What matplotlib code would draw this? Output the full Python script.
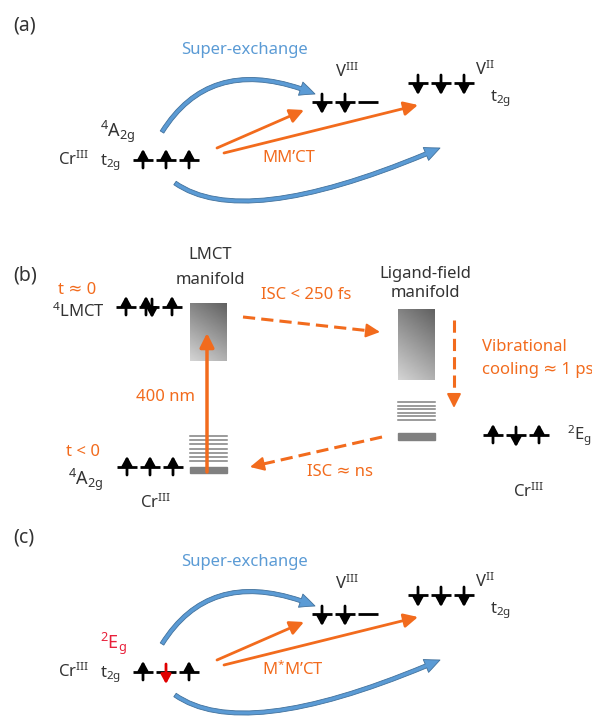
import numpy as np
import matplotlib.pyplot as plt
from matplotlib.patches import FancyArrowPatch
from matplotlib.path import Path

plt.rcParams['font.family'] = ['Noto Sans', 'DejaVu Sans']
plt.rcParams['mathtext.fontset'] = 'custom'
plt.rcParams['mathtext.rm'] = 'Noto Sans'
plt.rcParams['mathtext.it'] = 'Noto Sans'

# spin configurations (u = up, d = down, ud = pair, '' = empty, dr = red down)
cr_spins_a = ['u', 'u', 'u']
v3_spins = ['d', 'd', '']
v2_spins = ['d', 'd', 'd']
lmct_spins = ['u', 'ud', 'u']
a2g_spins = ['u', 'u', 'u']
e_spins = ['u', 'd', 'u']
cr_spins_c = ['u', 'dr', 'u']

panel_labels = ['(a)', '(b)', '(c)']
ct_labels = ['MM’CT', 'M$^{*}$M’CT']
cr_state_labels = ['$^{4}$A$_{2g}$', '$^{2}$E$_{g}$']
cr_state_colors = ['#333333', '#e8203a']
b_times = ['t ≈ 0', 't < 0']
isc_labels = ['ISC < 250 fs', 'ISC ≈ ns']

ORANGE = '#f26b1d'
BLUE = '#5b9bd5'
GREY = '#333333'

fig = plt.figure(figsize=(5.92, 7.17), dpi=100)
ax = fig.add_axes([0, 0, 1, 1])
ax.set_xlim(0, 592)
ax.set_ylim(717, 0)
ax.axis('off')


def spins(x0, y, codes, w=20, gap=3):
    for i, c in enumerate(codes):
        xl = x0 + i * (w + gap)
        ax.plot([xl, xl + w], [y, y], color='k', lw=2.0, solid_capstyle='butt')
        xc = xl + w / 2
        arrows = []
        if c == 'u':
            arrows.append((xc, y + 8, y - 11, 'k'))
        elif c == 'd':
            arrows.append((xc, y - 8, y + 12, 'k'))
        elif c == 'dr':
            arrows.append((xc, y - 8, y + 12, '#e00000'))
        elif c == 'ud':
            arrows.append((xc - 3, y + 8, y - 11, 'k'))
            arrows.append((xc + 3, y - 8, y + 11, 'k'))
        for xa, yt, yh, col in arrows:
            ax.annotate('', xy=(xa, yh), xytext=(xa, yt),
                        arrowprops=dict(arrowstyle='-|>,head_length=0.55,head_width=0.3',
                                        color=col, lw=2.0, shrinkA=0, shrinkB=0,
                                        mutation_scale=10))


def orange_arrow(x0, y0, x1, y1, lw=2.0):
    ax.annotate('', xy=(x1, y1), xytext=(x0, y0),
                arrowprops=dict(arrowstyle='-|>,head_length=0.7,head_width=0.35',
                                color=ORANGE, lw=lw, shrinkA=0, shrinkB=0,
                                mutation_scale=12))


def dashed_arrow(x0, y0, x1, y1):
    d = np.hypot(x1 - x0, y1 - y0)
    xe = x1 - (x1 - x0) * 8 / d
    ye = y1 - (y1 - y0) * 8 / d
    ax.plot([x0, xe], [y0, ye], color=ORANGE, lw=2.2, ls=(0, (4, 2)))
    ax.annotate('', xy=(x1, y1), xytext=(xe, ye),
                arrowprops=dict(arrowstyle='-|>,head_length=0.7,head_width=0.35',
                                color=ORANGE, lw=1.5, shrinkA=0, shrinkB=0,
                                mutation_scale=12))


def blue_arrow(pts):
    path = Path(pts, [Path.MOVETO, Path.CURVE3, Path.CURVE3])
    p = FancyArrowPatch(path=path,
                        arrowstyle='simple,head_length=1.1,head_width=1.0,tail_width=0.3',
                        mutation_scale=10, fc=BLUE, ec='#41719c', lw=0.6)
    ax.add_patch(p)


def grad_box(x0, x1, y0, y1):
    n, m = 50, 30
    i = np.linspace(0, 1, n)[:, None]
    j = np.linspace(0, 1, m)[None, :]
    g = 0.38 + 0.45 * (0.7 * i + 0.3 * (1 - j))
    ax.imshow(g, cmap='gray', vmin=0, vmax=1, extent=(x0, x1, y1, y0),
              origin='upper', aspect='auto', zorder=1)


def level_stack(x0, x1, y0, y1, nlines, ybar, hbar):
    for y in np.linspace(y0, y1, nlines):
        ax.plot([x0, x1], [y, y], color='#808080', lw=1.1, zorder=1)
    ax.add_patch(plt.Rectangle((x0, ybar), x1 - x0, hbar, color='#808080', zorder=1))


# ---- panels (a) and (c): same layout, shifted ----
for k, off in enumerate([0, 512]):
    ax.text(13, 26 + off, panel_labels[0 if k == 0 else 2], fontsize=14, color=GREY,
            va='center', ha='left')
    ax.text(245, 50 + off, 'Super-exchange', fontsize=12, color=BLUE, ha='center', va='center')
    blue_arrow([(162, 132 + off), (212, 52 + off), (315, 94 + off)])
    blue_arrow([(175, 183 + off), (245, 232 + off), (440, 148 + off)])
    ax.text(100, 137 + off, cr_state_labels[k], fontsize=13, color=cr_state_colors[k], ha='left',
            va='baseline')
    ax.text(58, 165 + off, 'Cr$^{\\rm III}$', fontsize=12, color=GREY, ha='left', va='baseline')
    ax.text(100, 165 + off, 't$_{2g}$', fontsize=12, color=GREY, ha='left', va='baseline')
    spins(133, 160 + off, cr_spins_a if k == 0 else cr_spins_c)
    orange_arrow(217, 148 + off, 304, 110 + off)
    orange_arrow(224, 153 + off, 418, 105 + off)
    ax.text(262, 158 + off, ct_labels[k], fontsize=12, color=ORANGE, ha='left', va='center')
    ax.text(335, 77 + off, 'V$^{\\rm III}$', fontsize=12, color=GREY, ha='left', va='baseline')
    spins(312, 102 + off, v3_spins)
    ax.text(475, 75 + off, 'V$^{\\rm II}$', fontsize=12, color=GREY, ha='left', va='baseline')
    spins(408, 83 + off, v2_spins)
    ax.text(490, 101 + off, 't$_{2g}$', fontsize=12, color=GREY, ha='left', va='baseline')

# ---- panel (b) ----
ax.text(13, 276, panel_labels[1], fontsize=14, color=GREY, va='center', ha='left')
ax.text(210, 255, 'LMCT', fontsize=12, color=GREY, ha='center', va='center')
ax.text(210, 280, 'manifold', fontsize=12, color=GREY, ha='center', va='center')
ax.text(77, 290, b_times[0], fontsize=12, color=ORANGE, ha='center', va='center')
ax.text(105, 317, '$^{4}$LMCT', fontsize=12, color=GREY, ha='right', va='baseline')
spins(116, 307, lmct_spins)
grad_box(190, 227, 303, 361)

level_stack(190, 227, 436, 461, 7, 467, 6)
ax.text(83, 452, b_times[1], fontsize=12, color=ORANGE, ha='center', va='center')
spins(117, 467, a2g_spins)
ax.text(68, 485, '$^{4}$A$_{2g}$', fontsize=13, color=GREY, ha='left', va='baseline')
ax.text(140, 508, 'Cr$^{\\rm III}$', fontsize=12, color=GREY, ha='left', va='baseline')
orange_arrow(207, 472, 207, 333, lw=2.5)
ax.text(165, 397, '400 nm', fontsize=12, color=ORANGE, ha='center', va='center')

ax.text(306, 295, isc_labels[0], fontsize=12, color=ORANGE, ha='center', va='center')
dashed_arrow(243, 317, 380, 332)
ax.text(425, 274, 'Ligand-field', fontsize=12, color=GREY, ha='center', va='center')
ax.text(425, 293, 'manifold', fontsize=12, color=GREY, ha='center', va='center')
grad_box(398, 435, 309, 380)
level_stack(398, 435, 402, 420, 6, 433, 7)
dashed_arrow(454, 320, 454, 408)
ax.text(482, 347, 'Vibrational', fontsize=12, color=ORANGE, ha='left', va='center')
ax.text(482, 370, 'cooling ≈ 1 ps', fontsize=12, color=ORANGE, ha='left', va='center')
spins(483, 435, e_spins)
ax.text(567, 440, '$^{2}$E$_{g}$', fontsize=12, color=GREY, ha='left', va='baseline')
ax.text(513, 497, 'Cr$^{\\rm III}$', fontsize=12, color=GREY, ha='left', va='baseline')
dashed_arrow(382, 437, 250, 467)
ax.text(307, 472, isc_labels[1], fontsize=12, color=ORANGE, ha='left', va='center')

fig.savefig('out.png', dpi=100)
